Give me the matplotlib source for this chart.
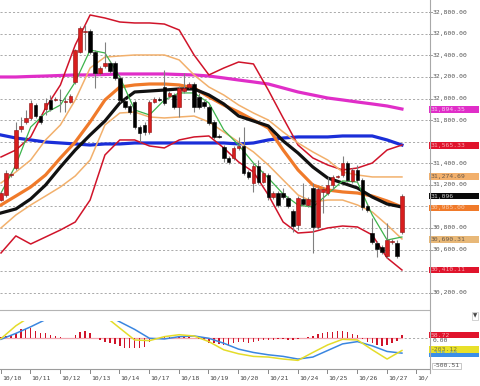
import matplotlib
matplotlib.use('Agg')
import matplotlib.pyplot as plt
from matplotlib.patches import Rectangle
from matplotlib.lines import Line2D

# ---------------- data ----------------
dates = ['10/10', '10/11', '10/12', '10/13', '10/14', '10/17', '10/18', '10/19',
         '10/20', '10/21', '10/24', '10/25', '10/26', '10/27', '10/28']

opens = [31060, 31106, 31291, 31356, 31718, 31783, 31820, 31940, 31838, 31903,
         31987, 31991, 31987, 31968, 31968, 32154, 32432, 32617, 32627, 32432,
         32237, 32302, 32330, 32330, 32191, 31977, 31931, 31968, 31736, 31755,
         31690, 31968, 31996, 32107, 32024, 32033, 31922, 32070, 32107, 32135,
         32015, 31968, 31922, 31783, 31653, 31551, 31449, 31449, 31542, 31560,
         31319, 31217, 31375, 31226, 31291, 31087, 31124, 31124, 31078, 30957,
         30827, 31069, 31013, 31171, 30809, 31134, 31124, 31199, 31273, 31291,
         31403, 31236, 31338, 31245, 31004, 30753, 30661, 30624, 30540, 30670,
         30661, 30763]
highs = [31143, 31338, 31319, 31783, 31829, 31894, 31987, 31959, 31857, 32005,
         32033, 32015, 32089, 32015, 32042, 32460, 32673, 32682, 32645, 32450,
         32302, 32525, 32348, 32348, 32209, 31996, 31950, 31987, 31755, 31783,
         31987, 32015, 32015, 32265, 32070, 32052, 32117, 32237, 32154, 32154,
         32052, 31987, 31940, 31801, 31671, 31569, 31467, 31560, 31644, 31736,
         31338, 31403, 31430, 31328, 31310, 31143, 31143, 31171, 31097, 30976,
         31097, 31217, 31087, 31217, 31180, 31180, 31273, 31291, 31291, 31467,
         31421, 31356, 31384, 31263, 31022, 30893, 30679, 30642, 30846, 30698,
         30688, 31115]
lows = [31050, 31087, 31273, 31338, 31690, 31764, 31801, 31820, 31764, 31848,
        31885, 31977, 31875, 31875, 31959, 32135, 32423, 32450, 32413, 32098,
        32219, 32283, 32237, 32172, 31968, 31903, 31857, 31718, 31597, 31662,
        31671, 31959, 31977, 31940, 32005, 31903, 31829, 32052, 32098, 31875,
        31903, 31912, 31755, 31625, 31634, 31412, 31393, 31430, 31523, 31291,
        31254, 31134, 31208, 31217, 31060, 31069, 30994, 31069, 30985, 30763,
        30781, 31004, 30994, 30568, 30791, 30939, 31106, 31152, 31263, 31273,
        31226, 31217, 31226, 30967, 30948, 30651, 30531, 30558, 30522, 30651,
        30522, 30744]
closes = [31124, 31310, 31300, 31709, 31746, 31820, 31959, 31838, 31783, 31959,
          31903, 31996, 31982, 31973, 32024, 32450, 32654, 32622, 32432, 32237,
          32283, 32330, 32256, 32191, 31987, 31922, 31875, 31736, 31681, 31690,
          31968, 31996, 31991, 31959, 32052, 31922, 32098, 32098, 32135, 31922,
          31922, 31931, 31773, 31644, 31648, 31449, 31412, 31542, 31560, 31310,
          31273, 31375, 31226, 31310, 31087, 31124, 31013, 31087, 31004, 30818,
          31078, 31022, 31069, 30809, 31161, 31161, 31199, 31273, 31277, 31403,
          31245, 31338, 31245, 30994, 30967, 30670, 30605, 30577, 30688, 30675,
          30540, 31097]

# indicator lines, read every third candle (candle index 0, 3, 6, ... 81)
line_idx = list(range(0, 82, 3))
ma_short = [31124, 31384, 31736, 31866, 31940, 32154, 32450, 32423, 32200, 31894,
            31848, 31987, 32052, 32052, 31959, 31709, 31569, 31402, 31263, 31115,
            31013, 30994, 31115, 31236, 31226, 30920, 30688, 30716]
ma_mid = [30939, 30976, 31069, 31198, 31365, 31523, 31662, 31792, 31959, 32061,
          32070, 32079, 32089, 32089, 32033, 31950, 31838, 31792, 31746, 31607,
          31495, 31365, 31263, 31217, 31171, 31087, 31022, 30994]
ema_mid = [31013, 31096, 31180, 31291, 31449, 31597, 31783, 31987, 32107, 32126,
           32135, 32135, 32126, 32098, 32015, 31940, 31875, 31801, 31727, 31523,
           31338, 31198, 31152, 31134, 31124, 31096, 31050, 30994]
ma_long = [31662, 31634, 31616, 31597, 31588, 31579, 31569, 31579, 31579, 31588,
           31588, 31588, 31588, 31588, 31588, 31588, 31579, 31588, 31616, 31634,
           31644, 31644, 31644, 31653, 31653, 31653, 31616, 31569]
ma_200 = [32200, 32200, 32205, 32209, 32214, 32219, 32219, 32223, 32228, 32228,
          32228, 32228, 32223, 32219, 32209, 32191, 32172, 32154, 32135, 32098,
          32061, 32033, 32005, 31987, 31968, 31950, 31931, 31903]
bb_up1 = [31217, 31319, 31430, 31616, 31755, 31987, 32283, 32385, 32395, 32404,
          32404, 32404, 32358, 32219, 32107, 32033, 31940, 31866, 31801, 31690,
          31588, 31505, 31430, 31319, 31291, 31273, 31273, 31273]
bb_dn1 = [30800, 30920, 31013, 31096, 31180, 31282, 31430, 31755, 31866, 31875,
          31829, 31820, 31829, 31838, 31783, 31690, 31597, 31505, 31384, 31245,
          31106, 31041, 31059, 31059, 31013, 30948, 30828, 30698]
bb_up2 = [31458, 31523, 31644, 31913, 32126, 32497, 32775, 32747, 32710, 32701,
          32701, 32691, 32636, 32404, 32219, 32283, 32339, 32321, 32079, 31820,
          31569, 31449, 31384, 31338, 31356, 31402, 31523, 31569]
bb_dn2 = [30568, 30726, 30651, 30716, 30781, 30855, 31059, 31477, 31616, 31616,
          31560, 31542, 31616, 31644, 31653, 31542, 31412, 31319, 31106, 30855,
          30753, 30763, 30800, 30818, 30809, 30735, 30522, 30410]

# lower oscillator panel
hist = [20, 42, 60, 101, 161, 161, 179, 137, 89, 89, 60, 42, 30, 12, 3, 60, 119,
        131, 89, 3, -30, -60, -77, -101, -137, -167, -179, -179, -179, -149, -60,
        -18, 3, 18, 30, 18, 30, 42, 18, 3, -18, -30, -77, -89, -107, -119, -119,
        -89, -60, -71, -77, -60, -42, -30, -30, -30, -18, -12, -30, -30, -12, 12,
        30, 42, 71, 89, 107, 119, 131, 131, 107, 77, 60, -18, -60, -89, -119,
        -137, -119, -77, -42, 59]
osc_fast = [-6, 226, 400, 550, 600, 600, 550, 400, 184, -30, -42, 30, 65, 42,
            -60, -208, -280, -327, -339, -375, -399, -256, -119, -18, -30, -208,
            -375, -220]
osc_slow = [-18, 89, 208, 339, 420, 480, 480, 440, 298, 161, 0, -12, 30, 42, 0,
            -89, -196, -256, -298, -327, -375, -339, -220, -101, -60, -137, -238,
            -268]

price_levels = [30200, 30400, 30600, 30800, 31000, 31200, 31400, 31600, 31800,
                32000, 32200, 32400, 32600, 32800]
price_tags = [(31894.35, '31,894.35'), (31565.33, '31,565.33'),
              (31274.69, '31,274.69'), (31096.00, '31,096'),
              (30985.00, '30,985.00'), (30690.31, '30,690.31'),
              (30410.11, '30,410.11')]
osc_tags = [(58.72, '58.72'), (-275.0, '-275.40'), (-203.12, '-203.12')]

# ---------------- styling ----------------
W, H = 480, 386
fig = plt.figure(figsize=(W / 100, H / 100), dpi=100)
fig.patch.set_facecolor('white')


def fa(x0, y0, x1, y1):
    return [x0 / W, 1 - y1 / H, (x1 - x0) / W, (y1 - y0) / H]


PX = 4.95
XMIN, XMAX = -1 / PX, 428 / PX
MONO = 'DejaVu Sans Mono'
FS = 4.6
TXT = '#555555'

C_RED = '#d81e1e'
C_MAG = '#e02ec8'
C_BLUE = '#1a2ed8'
C_BLACK = '#111111'
C_ORANGE = '#f07a2a'
C_LORANGE = '#f2b06c'
C_BAND = '#d0142a'
C_GREEN = '#3cb44b'

# main price panel
ax = fig.add_axes(fa(0, 0, 429, 310))
ax.set_xlim(XMIN, XMAX)
ax.set_ylim(30039, 32914)
ax.axis('off')
for lv in price_levels:
    ax.axhline(lv, color='#9c9c9c', lw=0.6, ls=(0, (2.5, 2.5)), zorder=0)

ax.plot(line_idx, ma_200, color=C_MAG, lw=2.3, zorder=2)
ax.plot(line_idx, ma_long, color=C_BLUE, lw=2.3, zorder=2)
ax.plot(line_idx, bb_up2, color=C_BAND, lw=1.1, zorder=2)
ax.plot(line_idx, bb_dn2, color=C_BAND, lw=1.1, zorder=2)
ax.plot(line_idx, bb_up1, color=C_LORANGE, lw=1.1, zorder=2)
ax.plot(line_idx, bb_dn1, color=C_LORANGE, lw=1.1, zorder=2)
ax.plot(line_idx, ema_mid, color=C_ORANGE, lw=2.3, zorder=3)
ax.plot(line_idx, ma_mid, color=C_BLACK, lw=2.3, zorder=3)
ax.plot(line_idx, ma_short, color=C_GREEN, lw=0.9, zorder=3)

for i, (o, h, l, c) in enumerate(zip(opens, highs, lows, closes)):
    ax.vlines(i, l, h, color='#808080', lw=0.8, zorder=5)
    up = c >= o
    col = C_RED if up else '#000000'
    bottom = min(o, c)
    height = max(abs(c - o), 9)
    ax.add_patch(Rectangle((i - 0.36, bottom), 0.72, height, fc=col,
                           ec='#8a1010' if up else '#000000', lw=0.4, zorder=6))

# right price scale
axr = fig.add_axes(fa(429, 0, 480, 310))
axr.set_xlim(0, 51)
axr.set_ylim(30039, 32914)
axr.axis('off')
tag_vals = [v for v, _ in price_tags]
for lv in price_levels:
    axr.plot([0, 3], [lv, lv], color='#9c9c9c', lw=0.7)
    if min(abs(lv - v) for v in tag_vals) > 45:
        axr.text(4, lv, f'{lv:,.2f}', fontsize=FS, family=MONO, color=TXT,
                 va='center', ha='left')
tag_style = {
    '31,894.35': (C_MAG, '#f7c6ef'),
    '31,565.33': ('#e0142c', '#f6a8b0'),
    '31,274.69': (C_LORANGE, '#6a5a4a'),
    '31,096': ('#0a0a0a', '#c8c8c8'),
    '30,985.00': (C_ORANGE, '#f8c8a4'),
    '30,690.31': ('#e8b878', '#6a5a4a'),
    '30,410.11': ('#e0142c', '#f6a8b0'),
}
for v, t in price_tags:
    fc, tc = tag_style[t]
    axr.add_patch(Rectangle((0, v - 32), 50, 64, fc=fc, ec='none', zorder=5))
    axr.text(1.5, v, t, fontsize=FS, family=MONO, color=tc, va='center',
             ha='left', zorder=6)

# lower oscillator panel
OY0, OY1 = -555, 322
ax2 = fig.add_axes(fa(0, 320.5, 429, 369))
ax2.set_xlim(XMIN, XMAX)
ax2.set_ylim(OY0, OY1)
ax2.axis('off')
ax2.axhline(0, color='#9c9c9c', lw=0.6, ls=(0, (2.5, 2.5)), zorder=0)
ax2.plot([0, len(hist) - 1], [0, 0], color='#f2a6b0', lw=0.9, zorder=1)
ax2.bar(range(len(hist)), hist, width=0.3, color='#d0142a', zorder=2)
ax2.plot(line_idx, osc_slow, color='#3a86e0', lw=1.1, zorder=3)
ax2.plot(line_idx, osc_fast, color='#e4dc2a', lw=1.1, zorder=3)

ax2r = fig.add_axes(fa(429, 320.5, 480, 369))
ax2r.set_xlim(0, 51)
ax2r.set_ylim(OY0, OY1)
ax2r.axis('off')
ax2r.text(4, -45, '0.00', fontsize=FS, family=MONO, color=TXT, va='center')
osc_style = {'58.72': ('#e0142c', '#f6a8b0'), '-275.40': ('#3a8ee8', '#3a8ee8'),
             '-203.12': ('#e8e02a', '#707040')}
for v, t in osc_tags:
    fc, tc = osc_style[t]
    ax2r.add_patch(Rectangle((0, v - 60), 50, 120, fc=fc, ec='none', zorder=5))
    ax2r.text(1.5, v, t, fontsize=FS, family=MONO, color=tc, va='center',
              zorder=6)
ax2r.text(4, -500.51, '-500.51', fontsize=FS, family=MONO, color=TXT,
          va='center', bbox=dict(boxstyle='square,pad=0.1', fc='white',
                                 ec='#b0b0b0', lw=0.5))

# x axis (day labels)
axx = fig.add_axes(fa(0, 369, 429, 386))
axx.set_xlim(XMIN, XMAX)
axx.set_ylim(17, 0)
axx.axis('off')
for d, lab in enumerate(dates):
    xt = 6 * d - 0.1
    axx.plot([xt, xt], [0, 4], color='#888888', lw=0.7)
    axx.text(xt + 0.25, 9, lab, fontsize=FS, family=MONO, color='#444444',
             va='center', ha='left', clip_on=True)

# frame lines
fig.add_artist(Line2D([0, 429 / W], [1 - 310 / H, 1 - 310 / H], color='#b4b4b4', lw=0.8))
fig.add_artist(Line2D([0, 429 / W], [1 - 369 / H, 1 - 369 / H], color='#9c9c9c', lw=0.8))
fig.add_artist(Line2D([429.5 / W, 429.5 / W], [1 - 373 / H, 1], color='#a8a8a8', lw=0.8))
fig.text(475 / W, 1 - 316 / H, '\u25bc', fontsize=4, color='#444444', ha='center',
         va='center', bbox=dict(boxstyle='square,pad=0.2', fc='white', ec='#c0c0c0', lw=0.5))

fig.savefig('out.png', dpi=100, facecolor='white')
